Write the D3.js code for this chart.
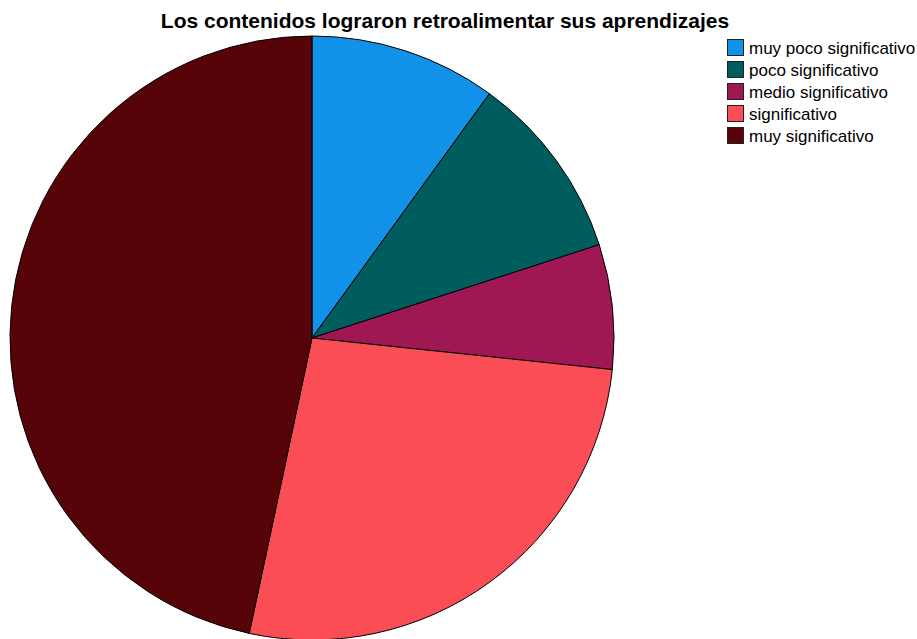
<!DOCTYPE html>
<html>
<head>
<meta charset="utf-8">
<script src="https://cdn.jsdelivr.net/npm/d3@7"></script>
<style>
  html, body { margin: 0; padding: 0; background: #fff; }
  svg { display: block; }
</style>
</head>
<body>
<svg id="chart" width="917" height="639"></svg>
<script>
// Responses to "Los contenidos lograron retroalimentar sus aprendizajes"
const categories = ["muy poco significativo", "poco significativo", "medio significativo", "significativo", "muy significativo"];
const counts = [3, 3, 2, 8, 14];
const colors = ["#1192e8", "#005d5d", "#9f1853", "#fa4d56", "#570408"];
const title = "Los contenidos lograron retroalimentar sus aprendizajes";

const svg = d3.select("#chart");
const cx = 312, cy = 338, r = 302;

svg.append("text")
  .attr("x", 445).attr("y", 28)
  .attr("text-anchor", "middle")
  .attr("font-family", "Liberation Sans, Arial, sans-serif")
  .attr("font-weight", "bold")
  .attr("font-size", 21)
  .attr("fill", "#000")
  .text(title);

const data = categories.map((c, i) => ({ cat: c, value: counts[i], color: colors[i] }));
const pie = d3.pie().value(d => d.value).sort(null);
const arc = d3.arc().innerRadius(0).outerRadius(r);

svg.append("g")
  .attr("transform", `translate(${cx},${cy})`)
  .selectAll("path")
  .data(pie(data))
  .join("path")
  .attr("d", arc)
  .attr("fill", d => d.data.color)
  .attr("stroke", "#000")
  .attr("stroke-width", 1);

const legend = svg.append("g").attr("transform", "translate(727,39)");
const rowH = 22;
const rows = legend.selectAll("g").data(data).join("g")
  .attr("transform", (d, i) => `translate(0,${i * rowH})`);
rows.append("rect")
  .attr("x", 0.5).attr("y", 0.5)
  .attr("width", 16).attr("height", 16)
  .attr("fill", d => d.color)
  .attr("stroke", "#222").attr("stroke-width", 1);
rows.append("text")
  .attr("x", 22).attr("y", 15)
  .attr("font-family", "Liberation Sans, Arial, sans-serif")
  .attr("font-size", 17)
  .attr("fill", "#000")
  .text(d => d.cat);
</script>
</body>
</html>
